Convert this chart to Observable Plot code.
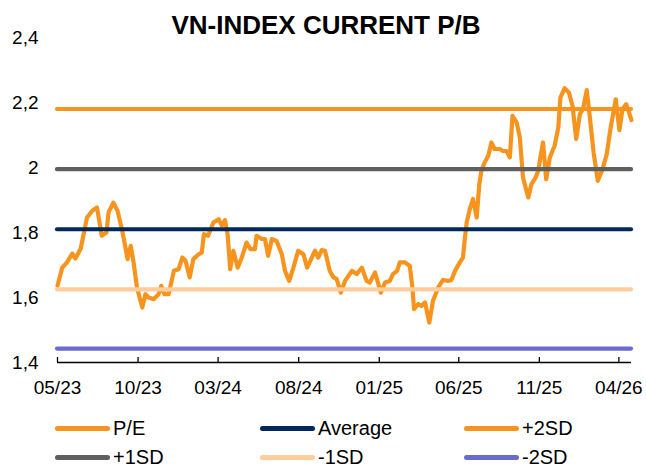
<!DOCTYPE html>
<html><head><meta charset="utf-8">
<script src="https://cdn.jsdelivr.net/npm/d3@7"></script>
<script src="https://cdn.jsdelivr.net/npm/@observablehq/plot@0.6"></script>
<style>
body{margin:0;background:#fff;color:#000;font-family:"Liberation Sans",Arial,sans-serif;}
#wrap{position:relative;width:646px;height:469px;overflow:hidden;}
#title{position:absolute;left:3px;top:12px;width:646px;text-align:center;font-size:26px;line-height:26px;font-weight:bold;color:#000;}
#chart{position:absolute;left:0;top:0;}
.sw{position:absolute;width:55px;height:5px;border-radius:3px;}
.lt{position:absolute;font-size:20px;line-height:20px;white-space:nowrap;color:#000;}
</style></head><body>
<div id="wrap"><div id="chart"></div><div id="title">VN-INDEX CURRENT P/B</div><div id="legend"></div></div>
<script>
const dates = ["2023-05-01","2023-05-10","2023-05-19","2023-05-29","2023-06-04","2023-06-14","2023-06-26","2023-07-06","2023-07-15","2023-07-24","2023-08-02","2023-08-06","2023-08-15","2023-08-23","2023-09-01","2023-09-07","2023-09-11","2023-09-17","2023-09-22","2023-09-29","2023-10-09","2023-10-15","2023-10-21","2023-10-31","2023-11-09","2023-11-14","2023-11-20","2023-11-28","2023-12-08","2023-12-17","2023-12-24","2023-12-30","2024-01-07","2024-01-14","2024-01-24","2024-01-30","2024-02-03","2024-02-11","2024-02-21","2024-03-02","2024-03-08","2024-03-14","2024-03-19","2024-03-24","2024-03-30","2024-04-07","2024-04-15","2024-04-24","2024-05-01","2024-05-10","2024-05-13","2024-05-23","2024-05-29","2024-06-04","2024-06-11","2024-06-20","2024-06-30","2024-07-06","2024-07-14","2024-07-22","2024-07-31","2024-08-10","2024-08-17","2024-08-26","2024-09-01","2024-09-07","2024-09-14","2024-09-20","2024-09-29","2024-10-06","2024-10-12","2024-10-20","2024-10-28","2024-11-10","2024-11-19","2024-11-29","2024-12-08","2024-12-14","2024-12-24","2025-01-04","2025-01-12","2025-01-21","2025-01-27","2025-02-04","2025-02-09","2025-02-19","2025-02-28","2025-03-05","2025-03-08","2025-03-16","2025-03-22","2025-03-29","2025-04-06","2025-04-13","2025-04-23","2025-05-02","2025-05-12","2025-05-18","2025-05-25","2025-06-03","2025-06-09","2025-06-12","2025-06-16","2025-06-22","2025-06-28","2025-07-05","2025-07-10","2025-07-14","2025-07-20","2025-07-27","2025-08-02","2025-08-08","2025-08-18","2025-08-24","2025-08-31","2025-09-06","2025-09-11","2025-09-19","2025-09-25","2025-10-01","2025-10-06","2025-10-11","2025-10-17","2025-10-25","2025-10-30","2025-11-03","2025-11-08","2025-11-14","2025-11-21","2025-11-30","2025-12-07","2025-12-11","2025-12-19","2025-12-27","2026-01-03","2026-01-10","2026-01-17","2026-01-23","2026-01-30","2026-02-05","2026-02-12","2026-02-20","2026-03-01","2026-03-09","2026-03-16","2026-03-26","2026-04-02","2026-04-08","2026-04-15","2026-04-25"];
const pb = [1.636,1.692,1.708,1.735,1.72,1.75,1.846,1.867,1.877,1.79,1.80,1.862,1.892,1.867,1.805,1.754,1.718,1.759,1.713,1.63,1.569,1.61,1.60,1.595,1.61,1.636,1.61,1.61,1.682,1.687,1.723,1.713,1.662,1.718,1.733,1.738,1.795,1.79,1.831,1.841,1.821,1.838,1.795,1.687,1.744,1.692,1.723,1.769,1.749,1.749,1.79,1.78,1.78,1.728,1.78,1.774,1.733,1.682,1.651,1.692,1.744,1.733,1.692,1.723,1.744,1.723,1.746,1.744,1.682,1.662,1.657,1.615,1.651,1.682,1.672,1.692,1.651,1.646,1.677,1.615,1.646,1.651,1.672,1.682,1.708,1.708,1.697,1.631,1.564,1.58,1.574,1.585,1.523,1.59,1.631,1.654,1.651,1.654,1.682,1.708,1.723,1.774,1.831,1.872,1.903,1.846,1.949,1.99,2.015,2.036,2.077,2.057,2.057,2.051,2.05,2.031,2.159,2.138,2.092,1.969,1.938,1.908,1.949,1.969,1.99,2.031,2.077,1.964,2.031,2.067,2.123,2.215,2.244,2.231,2.19,2.088,2.164,2.18,2.238,2.154,2.046,1.959,1.995,2.041,2.118,2.21,2.115,2.18,2.195,2.146];
const levelNames = ["Average","+2SD","+1SD","-1SD","-2SD"];
const levelValues = [1.81, 2.18, 1.995, 1.625, 1.443];
const yTicks = [1.4, 1.6, 1.8, 2, 2.2, 2.4];
const xTicks = ["2023-05-01","2023-10-01","2024-03-01","2024-08-01","2025-01-01","2025-06-01","2025-11-01","2026-04-01"];
const legendNames = ["P/E","Average","+2SD","+1SD","-1SD","-2SD"];

const colors = {"P/E":"#F7941D","Average":"#00285A","+2SD":"#F7941D","+1SD":"#5F5F5F","-1SD":"#FFCC9C","-2SD":"#6B6BCC"};

const series = dates.map((d, i) => ({date: new Date(d), pb: pb[i]}));
const tickDates = xTicks.map(d => new Date(d));
const yMin = yTicks[0];

const chart = Plot.plot({
  width: 646, height: 400,
  marginLeft: 57, marginRight: 15, marginTop: 37, marginBottom: 38,
  style: {fontFamily: '"Liberation Sans", Arial, sans-serif', fontSize: "19px", background: "transparent", overflow: "visible"},
  x: {type: "utc", domain: d3.extent(series, d => d.date)},
  y: {domain: [yMin, yTicks[yTicks.length - 1]]},
  marks: [
    Plot.line(series, {x: "date", y: "pb", stroke: colors["P/E"], strokeWidth: 4.2, strokeLinejoin: "round", strokeLinecap: "round"}),
    ...levelNames.map((n, i) => Plot.ruleY([levelValues[i]], {stroke: colors[n], strokeWidth: 4.2, strokeLinecap: "round"})),
    Plot.ruleY([yMin], {stroke: "#000", strokeWidth: 1.6}),
    Plot.ruleX(tickDates, {x: d => d, y1: yMin, y2: yMin, insetTop: -5, stroke: "#000", strokeWidth: 1.3}),
    Plot.axisY({ticks: yTicks, tickSize: 0, tickPadding: 19, tickFormat: d => String(d).replace(".", ","), fontSize: 19, label: null}),
    Plot.axisX({ticks: tickDates, tickSize: 0, tickPadding: 18, tickFormat: d3.utcFormat("%m/%y"), fontSize: 19, label: null})
  ]
});
document.getElementById("chart").appendChild(chart);

const legend = document.getElementById("legend");
const colX = [55, 260, 464];
const rowY = [428, 457];
legendNames.forEach((n, i) => {
  const c = i % 3, r = Math.floor(i / 3);
  const sw = document.createElement("div");
  sw.className = "sw";
  sw.style.left = colX[c] + "px";
  sw.style.top = (rowY[r] - 2.5) + "px";
  sw.style.background = colors[n];
  legend.appendChild(sw);
  const t = document.createElement("div");
  t.className = "lt";
  t.style.left = (colX[c] + 58) + "px";
  t.style.top = (rowY[r] - 10) + "px";
  t.textContent = n;
  legend.appendChild(t);
});
</script>
</body></html>
